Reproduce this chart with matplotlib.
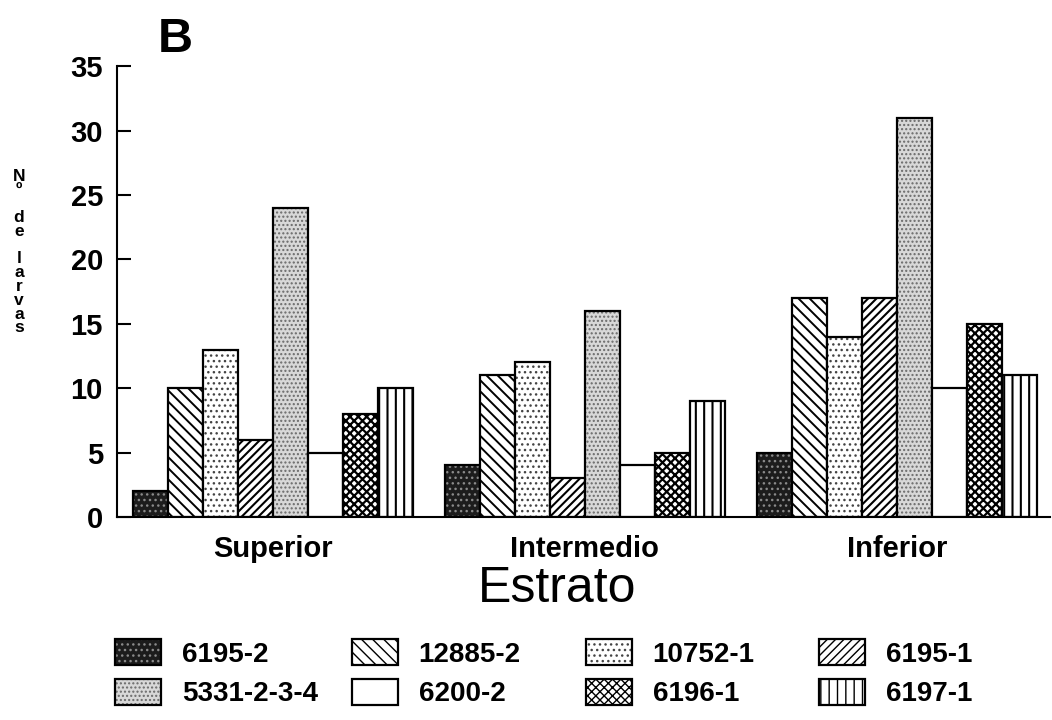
import numpy as np
import matplotlib.pyplot as plt
from matplotlib.patches import Patch

plt.rcParams['font.family'] = ['Liberation Sans', 'DejaVu Sans']

# =========================
# DATOS
# =========================

estratos = ["Superior", "Intermedio", "Inferior"]

series = ["6195-2", "12885-2", "10752-1", "6195-1",
          "5331-2-3-4", "6200-2", "6196-1", "6197-1"]

v_6195_2 = [2, 4, 5]
v_12885_2 = [10, 11, 17]
v_10752_1 = [13, 12, 14]
v_6195_1 = [6, 3, 17]
v_5331 = [24, 16, 31]
v_6200_2 = [5, 4, 10]
v_6196_1 = [8, 5, 15]
v_6197_1 = [10, 9, 11]

valores = [v_6195_2, v_12885_2, v_10752_1, v_6195_1,
           v_5331, v_6200_2, v_6196_1, v_6197_1]

# relleno, color de trama, trama, grosor de trama
estilos = [
    ("#1c1c1c", "#8a8a8a", "...", 1.0),
    ("white", "black", "\\\\\\", 1.4),
    ("white", "#444444", "...", 1.0),
    ("white", "black", "////", 1.5),
    ("#d8d8d8", "#6a6a6a", "....", 1.0),
    ("white", "white", "", 1.0),
    ("white", "black", "xxxx", 1.6),
    ("white", "black", "||", 1.5),
]

# =========================
# FIGURA
# =========================

fig = plt.figure(figsize=(10.52, 7.2), dpi=100)
ax = fig.add_axes([0.111, 0.282, 0.887, 0.626])

x = np.arange(len(estratos))
ancho = 0.112

handles = []
for i, (nombre, vals) in enumerate(zip(series, valores)):
    cara, trama_col, trama, grosor = estilos[i]
    pos = x + (i - 3.5) * ancho
    with plt.rc_context({"hatch.linewidth": grosor}):
        ax.bar(pos, vals, ancho, color=cara, edgecolor=trama_col,
               hatch=trama, linewidth=0)
        relleno = Patch(facecolor=cara, edgecolor=trama_col,
                        hatch=trama, linewidth=0)
    ax.bar(pos, vals, ancho, fill=False, edgecolor="black", linewidth=1.6)
    handles.append((relleno, Patch(fill=False, edgecolor="black", linewidth=1.6)))

ax.set_xlim(-0.5, 2.49)
ax.set_ylim(0, 35)
ax.set_yticks(range(0, 36, 5))
ax.set_xticks(x)
ax.set_xticklabels(estratos, fontsize=21, fontweight="bold")
ax.tick_params(axis="x", length=0, pad=13)
ax.tick_params(axis="y", direction="in", length=10, width=1.5,
               labelsize=21, pad=10)
for lab in ax.get_yticklabels():
    lab.set_fontweight("bold")

ax.spines["top"].set_visible(False)
ax.spines["right"].set_visible(False)
ax.spines["left"].set_linewidth(1.5)
ax.spines["bottom"].set_linewidth(1.5)

fig.text(0.150, 0.928, "B", fontsize=35, fontweight="bold", va="baseline")
fig.text(0.530, 0.182, "Estrato", fontsize=36, ha="center", va="center")
fig.text(0.018, 0.650, "\n".join("Nº de larvas"),
         fontsize=12.5, fontweight="bold", ha="center", va="center",
         linespacing=0.9)

# =========================
# LEYENDA
# =========================

col_x = [115, 352, 586, 819]
for c in range(4):
    hs = [handles[c], handles[c + 4]]
    ls = [series[c], series[c + 4]]
    fig.legend(hs, ls, loc="upper left",
               bbox_to_anchor=(col_x[c] / 1052, 0.112),
               frameon=False, borderpad=0, borderaxespad=0,
               handlelength=1.65, handleheight=1.05,
               handletextpad=0.75, labelspacing=0.4,
               prop={"size": 20, "weight": "bold"})

fig.savefig("out.png", dpi=100)
